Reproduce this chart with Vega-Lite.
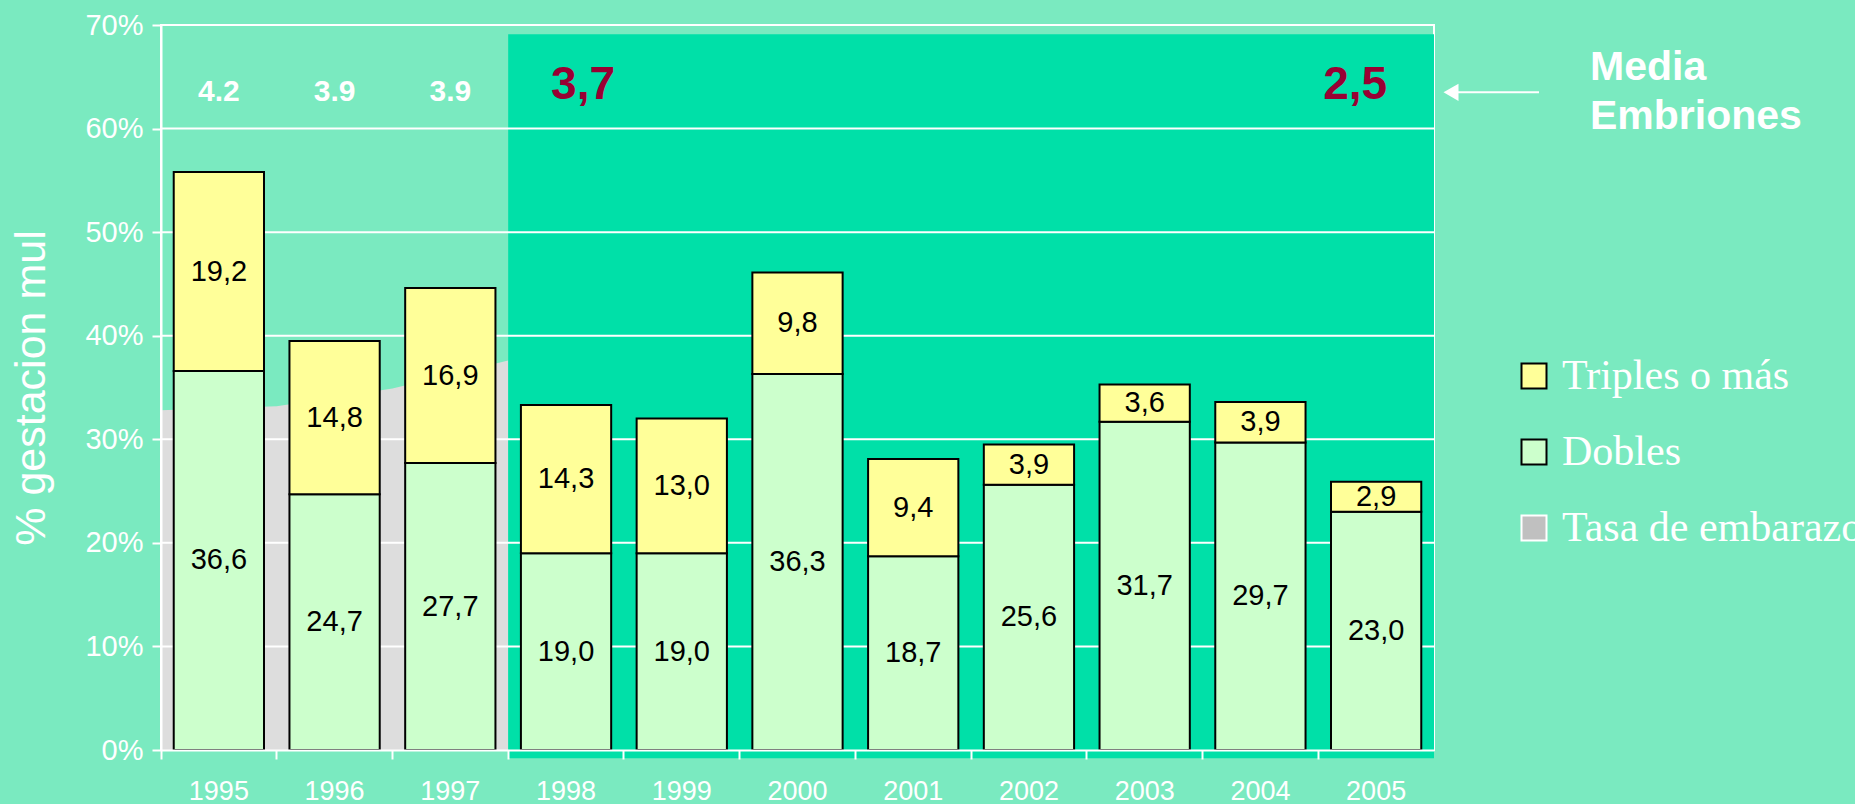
{
  "$schema": "https://vega.github.io/schema/vega-lite/v6.json",
  "width": 1273,
  "height": 725,
  "autosize": {"type": "none"},
  "padding": {"left": 161, "top": 25, "right": 421, "bottom": 54},
  "background": "#7AEAC0",
  "config": {
    "view": {"stroke": "white", "strokeWidth": 2},
    "font": "Liberation Sans",
    "locale": {"number": {"decimal": ",", "thousands": ".", "grouping": [3], "currency": ["", " €"]}}
  },
  "datasets": {
    "gestacion": [
      {"anio": "1995", "tipo": "Dobles", "valor": 36.6},
      {"anio": "1995", "tipo": "Triples o más", "valor": 19.2},
      {"anio": "1996", "tipo": "Dobles", "valor": 24.7},
      {"anio": "1996", "tipo": "Triples o más", "valor": 14.8},
      {"anio": "1997", "tipo": "Dobles", "valor": 27.7},
      {"anio": "1997", "tipo": "Triples o más", "valor": 16.9},
      {"anio": "1998", "tipo": "Dobles", "valor": 19.0},
      {"anio": "1998", "tipo": "Triples o más", "valor": 14.3},
      {"anio": "1999", "tipo": "Dobles", "valor": 19.0},
      {"anio": "1999", "tipo": "Triples o más", "valor": 13.0},
      {"anio": "2000", "tipo": "Dobles", "valor": 36.3},
      {"anio": "2000", "tipo": "Triples o más", "valor": 9.8},
      {"anio": "2001", "tipo": "Dobles", "valor": 18.7},
      {"anio": "2001", "tipo": "Triples o más", "valor": 9.4},
      {"anio": "2002", "tipo": "Dobles", "valor": 25.6},
      {"anio": "2002", "tipo": "Triples o más", "valor": 3.9},
      {"anio": "2003", "tipo": "Dobles", "valor": 31.7},
      {"anio": "2003", "tipo": "Triples o más", "valor": 3.6},
      {"anio": "2004", "tipo": "Dobles", "valor": 29.7},
      {"anio": "2004", "tipo": "Triples o más", "valor": 3.9},
      {"anio": "2005", "tipo": "Dobles", "valor": 23.0},
      {"anio": "2005", "tipo": "Triples o más", "valor": 2.9}
    ],
    "embarazo": [
      {"anio": "1995", "tasa": 32.8},
      {"anio": "1996", "tasa": 33.2},
      {"anio": "1997", "tasa": 34.9},
      {"anio": "1998", "tasa": 37.6}
    ],
    "mediaInicial": [
      {"anio": "1995", "media": "4.2"},
      {"anio": "1996", "media": "3.9"},
      {"anio": "1997", "media": "3.9"}
    ],
    "media1998": [{"anio": "1998", "media": "3,7"}],
    "media2005": [{"anio": "2005", "media": "2,5"}],
    "periodo": [{"desde": "1998", "hasta": "2005"}],
    "rejilla": [{"v": 10}, {"v": 20}, {"v": 30}, {"v": 40}, {"v": 50}, {"v": 60}, {"v": 70}],
    "anotacion": [{"anio": "2005", "texto": ["Media", "Embriones"]}]
  },
  "layer": [
    {
      "data": {"name": "embarazo"},
      "mark": {"type": "area", "color": "#DDDDDD", "interpolate": "linear"},
      "encoding": {
        "x": {
          "field": "anio", "type": "ordinal", "bandPosition": 0,
          "scale": {"type": "band", "paddingInner": 0, "paddingOuter": 0,
                    "domain": ["1995","1996","1997","1998","1999","2000","2001","2002","2003","2004","2005"]},
          "axis": {
            "title": null, "labelAngle": 0, "bandPosition": 0,
            "labelColor": "white", "labelFontSize": 27, "labelPadding": 19,
            "tickColor": "white", "tickSize": 9, "tickWidth": 2,
            "domainColor": "white", "domainWidth": 2, "grid": false, "zindex": 1
          }
        },
        "y": {
          "field": "tasa", "type": "quantitative",
          "scale": {"domain": [0, 70], "nice": false},
          "axis": {
            "title": "% gestacion mul", "titleColor": "white", "titleFontSize": 43,
            "titleFontWeight": "normal", "titlePadding": 31,
            "values": [0, 10, 20, 30, 40, 50, 60, 70],
            "labelExpr": "datum.value + '%'",
            "labelColor": "white", "labelFontSize": 29, "labelPadding": 9,
            "tickColor": "white", "tickSize": 9, "tickWidth": 2,
            "domainColor": "white", "domainWidth": 2, "grid": false, "zindex": 1
          }
        }
      }
    },
    {
      "data": {"name": "periodo"},
      "mark": {"type": "rect", "color": "#00E0A8"},
      "encoding": {
        "x": {"field": "desde", "type": "ordinal", "bandPosition": 0},
        "x2": {"field": "hasta", "bandPosition": 1},
        "y": {"datum": 69.1, "type": "quantitative"},
        "y2": {"datum": -0.8}
      }
    },
    {
      "data": {"name": "rejilla"},
      "mark": {"type": "rule", "color": "white", "strokeWidth": 2},
      "encoding": {
        "y": {"field": "v", "type": "quantitative"}
      }
    },
    {
      "data": {"name": "gestacion"},
      "mark": {"type": "bar", "stroke": "black", "strokeWidth": 2, "width": {"band": 0.78}},
      "encoding": {
        "x": {"field": "anio", "type": "ordinal"},
        "y": {"field": "valor", "type": "quantitative", "stack": "zero"},
        "color": {
          "field": "tipo", "type": "nominal",
          "scale": {"domain": ["Triples o más", "Dobles", "Tasa de embarazo"],
                    "range": ["#FFFF99", "#CCFFCC", "#C0C0C0"]},
          "legend": {
            "title": null, "orient": "none", "legendX": 1352, "legendY": 330,
            "padding": 0, "symbolType": "square", "symbolSize": 625,
            "symbolStrokeWidth": 2, "symbolStrokeColor": "black",
            "labelFont": "Liberation Serif", "labelFontSize": 42, "labelColor": "white",
            "labelOffset": 7, "rowPadding": 34, "labelLimit": 600,
            "encode": {"symbols": {"update": {"stroke": {"signal": "datum.label === 'Tasa de embarazo' ? 'white' : 'black'"}}}}
          }
        },
        "order": {"field": "tipo", "sort": "ascending"}
      }
    },
    {
      "data": {"name": "gestacion"},
      "mark": {"type": "text", "fontSize": 29, "color": "black", "baseline": "middle", "align": "center"},
      "encoding": {
        "x": {"field": "anio", "type": "ordinal"},
        "y": {"field": "valor", "type": "quantitative", "stack": "zero", "bandPosition": 0.5},
        "text": {"field": "valor", "type": "quantitative", "format": ".1f"},
        "order": {"field": "tipo", "sort": "ascending"}
      }
    },
    {
      "data": {"name": "mediaInicial"},
      "mark": {"type": "text", "fontSize": 30, "fontWeight": "bold", "color": "white", "baseline": "alphabetic", "align": "center"},
      "encoding": {
        "x": {"field": "anio", "type": "ordinal"},
        "y": {"datum": 62.7, "type": "quantitative"},
        "text": {"field": "media", "type": "nominal"}
      }
    },
    {
      "data": {"name": "media1998"},
      "mark": {"type": "text", "fontSize": 46, "fontWeight": "bold", "color": "#990033", "baseline": "alphabetic", "align": "center", "dx": 17},
      "encoding": {
        "x": {"field": "anio", "type": "ordinal"},
        "y": {"datum": 62.9, "type": "quantitative"},
        "text": {"field": "media", "type": "nominal"}
      }
    },
    {
      "data": {"name": "media2005"},
      "mark": {"type": "text", "fontSize": 46, "fontWeight": "bold", "color": "#990033", "baseline": "alphabetic", "align": "center", "dx": -21},
      "encoding": {
        "x": {"field": "anio", "type": "ordinal"},
        "y": {"datum": 62.9, "type": "quantitative"},
        "text": {"field": "media", "type": "nominal"}
      }
    },
    {
      "data": {"name": "anotacion"},
      "mark": {"type": "rule", "color": "white", "strokeWidth": 2, "xOffset": 14, "x2Offset": 105},
      "encoding": {
        "x": {"field": "anio", "type": "ordinal", "bandPosition": 1},
        "x2": {"field": "anio", "bandPosition": 1},
        "y": {"datum": 63.5, "type": "quantitative"}
      }
    },
    {
      "data": {"name": "anotacion"},
      "mark": {"type": "point", "shape": "triangle-left", "filled": true, "color": "white", "opacity": 1, "size": 300, "xOffset": 17},
      "encoding": {
        "x": {"field": "anio", "type": "ordinal", "bandPosition": 1},
        "y": {"datum": 63.5, "type": "quantitative"}
      }
    },
    {
      "data": {"name": "anotacion"},
      "mark": {"type": "text", "fontSize": 41, "fontWeight": "bold", "color": "white", "align": "left", "baseline": "alphabetic", "lineHeight": 49, "dx": 156},
      "encoding": {
        "x": {"field": "anio", "type": "ordinal", "bandPosition": 1},
        "y": {"datum": 64.7, "type": "quantitative"},
        "text": {"field": "texto"}
      }
    }
  ]
}
